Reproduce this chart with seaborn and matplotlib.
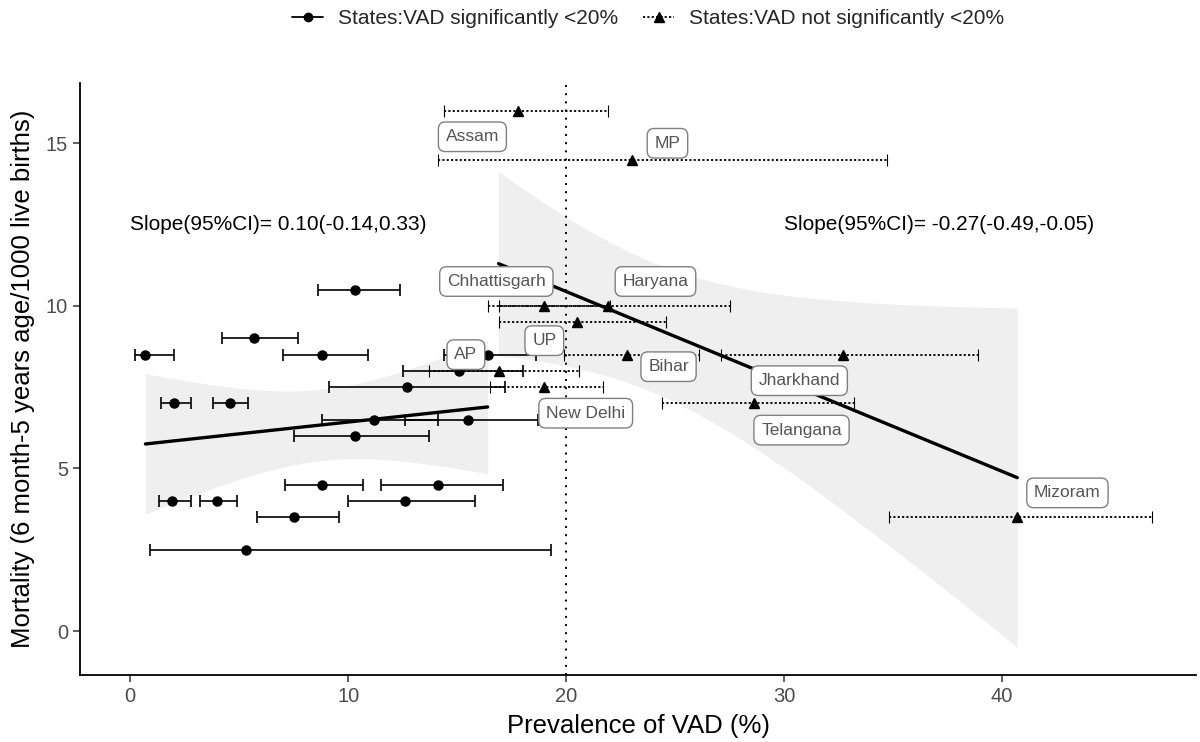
import numpy as np
import pandas as pd
import matplotlib
matplotlib.use("Agg")
import matplotlib.pyplot as plt
import seaborn as sns
from matplotlib.lines import Line2D

# ---- data: states where VAD significantly <20% (circles) ----
sig_vad  = [10.3, 5.7, 0.7, 8.8, 16.4, 15.1, 12.7, 2.0, 4.6, 11.2, 15.5, 10.3, 8.8, 14.1, 1.9, 4.0, 12.6, 7.5, 5.3]
sig_mort = [10.5, 9.0, 8.5, 8.5, 8.5, 8.0, 7.5, 7.0, 7.0, 6.5, 6.5, 6.0, 4.5, 4.5, 4.0, 4.0, 4.0, 3.5, 2.5]
sig_lo   = [8.6, 4.2, 0.2, 7.0, 14.4, 12.5, 9.1, 1.4, 3.8, 8.8, 12.6, 7.5, 7.1, 11.5, 1.3, 3.2, 10.0, 5.8, 0.9]
sig_hi   = [12.4, 7.7, 2.0, 10.9, 18.6, 18.0, 17.2, 2.8, 5.4, 14.1, 18.7, 13.7, 10.7, 17.1, 2.8, 4.9, 15.8, 9.6, 19.3]

# ---- data: states where VAD not significantly <20% (triangles) ----
ns_vad  = [17.8, 23.0, 19.0, 21.9, 20.5, 22.8, 32.7, 16.9, 19.0, 28.6, 40.7]
ns_mort = [16.0, 14.5, 10.0, 10.0, 9.5, 8.5, 8.5, 8.0, 7.5, 7.0, 3.5]
ns_lo   = [14.4, 14.1, 16.4, 16.9, 16.9, 19.9, 27.1, 13.7, 16.5, 24.4, 34.8]
ns_hi   = [21.9, 34.7, 22.0, 27.5, 24.6, 26.1, 38.9, 20.6, 21.7, 33.2, 46.9]

# ---- state labels ----
label_names = ["Assam", "MP", "Chhattisgarh", "Haryana", "UP", "AP", "Bihar",
               "Jharkhand", "New Delhi", "Telangana", "Mizoram"]
label_x = [15.7, 24.65, 16.8, 24.1, 19.0, 15.4, 24.7, 30.7, 20.9, 30.8, 43.0]
label_y = [15.2, 15.0, 10.75, 10.75, 8.93, 8.5, 8.13, 7.7, 6.7, 6.18, 4.25]

slope_texts = ["Slope(95%CI)= 0.10(-0.14,0.33)", "Slope(95%CI)= -0.27(-0.49,-0.05)"]
legend_names = ["States:VAD significantly <20%", "States:VAD not significantly <20%"]
threshold = 20

sig = pd.DataFrame({"vad": sig_vad, "mort": sig_mort, "lo": sig_lo, "hi": sig_hi})
ns = pd.DataFrame({"vad": ns_vad, "mort": ns_mort, "lo": ns_lo, "hi": ns_hi})

sns.set_theme(style="ticks")
plt.rcParams["font.family"] = ["Liberation Sans", "DejaVu Sans"]

fig = plt.figure(figsize=(12, 7.42), dpi=100)
ax = fig.add_axes([0.0667, 0.0903, 0.93, 0.7977])

T975 = {17: 2.1098, 9: 2.2622}


def band(df):
    x = df["vad"].to_numpy(float)
    y = df["mort"].to_numpy(float)
    n = len(x)
    b, a = np.polyfit(x, y, 1)
    res = y - (a + b * x)
    s = np.sqrt((res ** 2).sum() / (n - 2))
    sxx = ((x - x.mean()) ** 2).sum()
    xs = np.linspace(x.min(), x.max(), 100)
    yh = a + b * xs
    se = s * np.sqrt(1.0 / n + (xs - x.mean()) ** 2 / sxx)
    t = T975.get(n - 2, 2.0)
    ax.fill_between(xs, yh - t * se, yh + t * se, color="#efefef", lw=0, zorder=0.5)


band(sig)
band(ns)

ax.axvline(threshold, color="black", ls=(0, (1, 3.2)), lw=1.4, zorder=1)

sns.regplot(data=sig, x="vad", y="mort", scatter=False, ci=None, color="black",
            line_kws=dict(lw=2.4, zorder=2), ax=ax)
sns.regplot(data=ns, x="vad", y="mort", scatter=False, ci=None, color="black",
            line_kws=dict(lw=2.4, zorder=2), ax=ax)

e1 = ax.errorbar(sig["vad"], sig["mort"],
                 xerr=[sig["vad"] - sig["lo"], sig["hi"] - sig["vad"]],
                 fmt="o", color="black", ms=6.5, elinewidth=1.2, capsize=4.3,
                 capthick=1.2, zorder=3)
e2 = ax.errorbar(ns["vad"], ns["mort"],
                 xerr=[ns["vad"] - ns["lo"], ns["hi"] - ns["vad"]],
                 fmt="^", color="black", ms=7.5, elinewidth=1.3, capsize=4.3,
                 capthick=0.8, zorder=3)
e2[2][0].set_linestyle((0, (1.2, 1.2)))
for c in e2[1]:
    c.set_color("#333333")

for name, lx, ly in zip(label_names, label_x, label_y):
    ax.text(lx, ly, name, ha="center", va="center", fontsize=12.5, color="#555555",
            zorder=4,
            bbox=dict(boxstyle="round,pad=0.42,rounding_size=0.4", fc="white",
                      ec="#808080", lw=1.0))

ax.text(0, 12.5, slope_texts[0], ha="left", va="center", fontsize=15, color="black")
ax.text(30, 12.5, slope_texts[1], ha="left", va="center", fontsize=15, color="black")

ax.set_xlim(-2.3, 48.9)
ax.set_ylim(-1.35, 16.85)
ax.set_xticks([0, 10, 20, 30, 40])
ax.set_yticks([0, 5, 10, 15])
ax.tick_params(axis="both", labelsize=14.5, labelcolor="#4d4d4d", color="#333333",
               length=5, width=1.1)
ax.set_xlabel("Prevalence of VAD (%)", fontsize=18.5, color="black", labelpad=6)
ax.set_ylabel("Mortality (6 month-5 years age/1000 live births)", fontsize=18.5,
              color="black", labelpad=8)
sns.despine(ax=ax)
for sp in ["left", "bottom"]:
    ax.spines[sp].set_linewidth(1.3)
    ax.spines[sp].set_color("black")

h1 = Line2D([], [], color="black", marker="o", ms=6, lw=1.3)
h2 = Line2D([], [], color="black", marker="^", ms=6.5, lw=1.3, ls=(0, (1.2, 1.2)))
fig.legend([h1, h2], legend_names, loc="center", bbox_to_anchor=(0.54, 0.975),
           ncol=2, frameon=False, fontsize=15, handlelength=1.5, columnspacing=1.2,
           handletextpad=0.7)

fig.savefig("out.png", dpi=100)
